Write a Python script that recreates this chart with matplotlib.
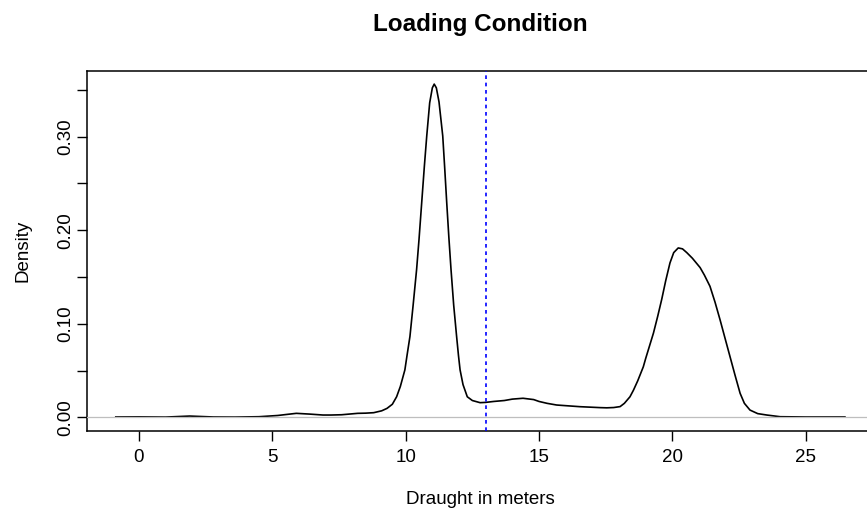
import matplotlib.pyplot as plt

plt.rcParams['font.family'] = ['Liberation Sans', 'DejaVu Sans']

# density curve (draught in meters -> density)
draught = [-0.87, 0.0, 1.0, 1.9, 2.8, 3.6, 4.5, 5.2, 5.5, 5.9, 6.4, 6.9, 7.2,
           7.6, 8.2, 8.5, 8.8, 9.1, 9.3, 9.5, 9.66, 9.8, 9.97, 10.05, 10.16,
           10.28, 10.41, 10.5, 10.6, 10.7, 10.79, 10.9, 11.0, 11.07, 11.15,
           11.25, 11.39, 11.46, 11.54, 11.62, 11.7, 11.8, 11.91, 11.98, 12.04,
           12.15, 12.31, 12.5, 12.79, 13.0, 13.3, 13.7, 14.0, 14.4, 14.8,
           15.0, 15.3, 15.66, 16.0, 16.54, 17.0, 17.3, 17.54, 17.8, 18.04,
           18.2, 18.41, 18.54, 18.7, 18.91, 19.0, 19.29, 19.45, 19.6, 19.75,
           19.91, 20.05, 20.22, 20.38, 20.54, 20.75, 21.04, 21.2, 21.41, 21.6,
           21.79, 21.97, 22.16, 22.35, 22.54, 22.7, 22.91, 23.2, 23.54, 24.04,
           25.0, 26.47]
density = [0.0004, 0.0005, 0.0003, 0.0014, 0.0004, 0.0003, 0.0007, 0.002,
           0.003, 0.0043, 0.0035, 0.0025, 0.0025, 0.0028, 0.0043, 0.0045,
           0.005, 0.007, 0.0096, 0.014, 0.022, 0.033, 0.0507, 0.066, 0.0864,
           0.12, 0.158, 0.19, 0.229, 0.268, 0.3006, 0.336, 0.352, 0.356, 0.352,
           0.337, 0.3006, 0.268, 0.229, 0.192, 0.158, 0.12, 0.0864, 0.066,
           0.0507, 0.035, 0.022, 0.018, 0.0157, 0.016, 0.017, 0.018, 0.0195,
           0.0204, 0.019, 0.017, 0.015, 0.0132, 0.0125, 0.0114, 0.0108, 0.0104,
           0.0102, 0.0105, 0.0115, 0.015, 0.022, 0.029, 0.039, 0.054, 0.063,
           0.090, 0.108, 0.126, 0.146, 0.165, 0.176, 0.181, 0.180, 0.176,
           0.170, 0.160, 0.152, 0.140, 0.123, 0.104, 0.085, 0.065, 0.045,
           0.0257, 0.015, 0.0078, 0.004, 0.0025, 0.0007, 0.0004, 0.0004]
cutoff = 13.0

x_ticks = [0, 5, 10, 15, 20, 25]
y_ticks = [0.0, 0.05, 0.10, 0.15, 0.20, 0.25, 0.30, 0.35]
y_labels = ['0.00', '', '0.10', '', '0.20', '', '0.30', '']

fig = plt.figure(figsize=(8.67, 5.15), dpi=100)
ax = fig.add_axes([86.7 / 867, 84.3 / 515, 787.3 / 867, 359.7 / 515])

ax.plot(draught, density, color='black', lw=1.2, zorder=2)
ax.axhline(0, color='#bebebe', lw=0.9, zorder=3)
ax.axvline(cutoff, color='blue', lw=1.2, dashes=(2.2, 2.2), zorder=4)

ax.set_xlim(-1.96, 27.56)
ax.set_ylim(-0.01424, 0.370)
ax.set_xticks(x_ticks)
ax.set_xticklabels([str(t) for t in x_ticks])
ax.set_yticks(y_ticks)
ax.set_yticklabels(y_labels, rotation=90, va='center')

ax.tick_params(axis='x', length=7.2, width=1.0, labelsize=13.5,
               direction='out', color='black', pad=6)
ax.tick_params(axis='y', length=7.2, width=1.0, labelsize=13.5,
               direction='out', color='black', pad=2)
for sp in ax.spines.values():
    sp.set_linewidth(1.1)

ax.set_title('Loading Condition', fontsize=17.5, fontweight='bold', pad=29)
ax.set_xlabel('Draught in meters', fontsize=13.5, labelpad=18)
ax.set_ylabel('Density', fontsize=13.5, labelpad=18)

fig.savefig('out.png', dpi=100)
